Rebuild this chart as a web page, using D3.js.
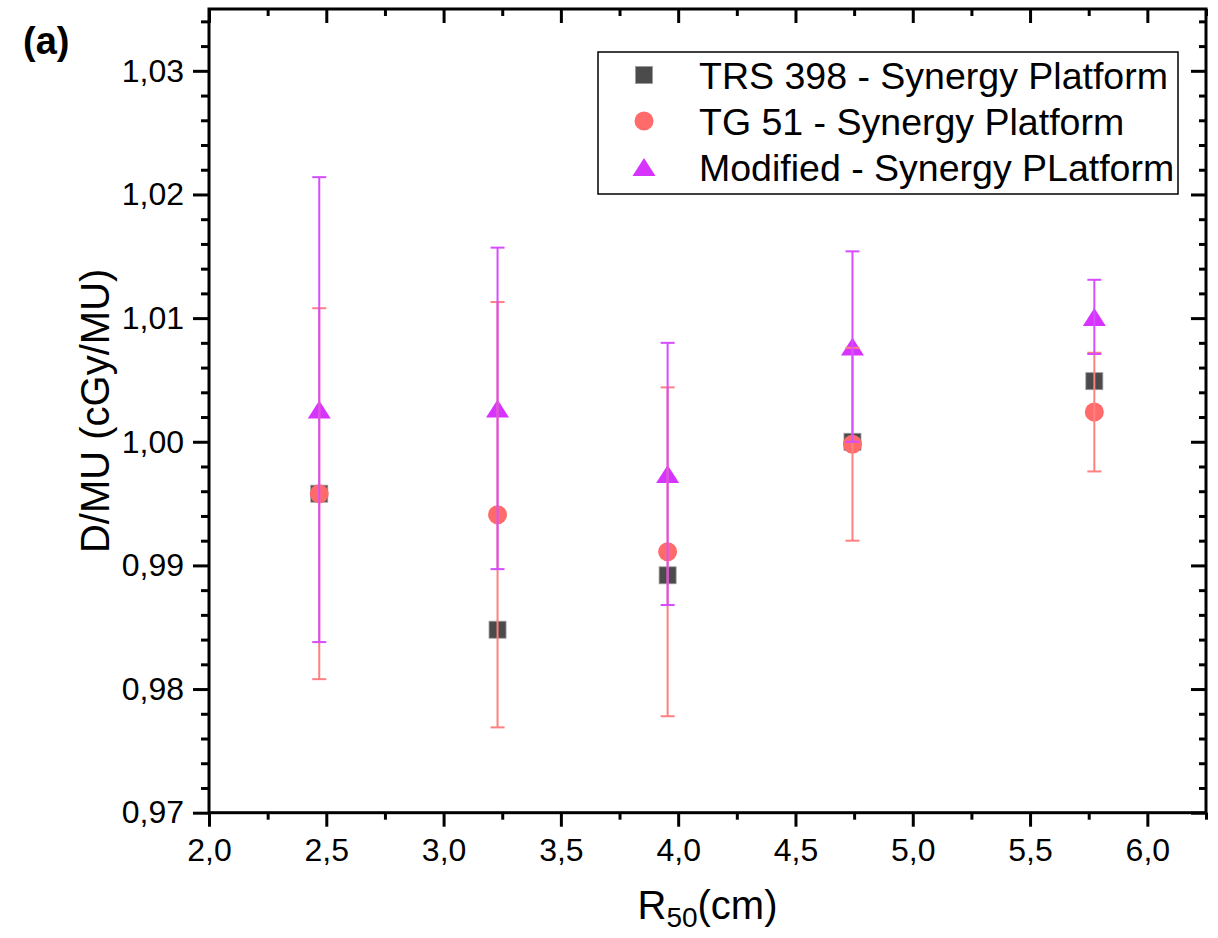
<!DOCTYPE html>
<html>
<head>
<meta charset="utf-8">
<script src="https://cdn.jsdelivr.net/npm/d3@7"></script>
<style>
  html, body { margin: 0; padding: 0; background: #fff; }
  svg { display: block; font-family: Arial, "Liberation Sans", sans-serif; }
</style>
</head>
<body>
<svg id="chart" width="1218" height="938"></svg>
<script>
// ---- data ----
const r50 = [2.47, 3.23, 3.955, 4.743, 5.774];
const trs398 = [0.9958, 0.9848, 0.9892, 1.0000, 1.0049];
const tg51 = [0.9958, 0.9941, 0.9911, 0.9998, 1.0024];
const tg51Err = [0.0150, 0.0172, 0.0133, 0.0078, 0.0048];
const modified = [1.0026, 1.0027, 0.9974, 1.0077, 1.0101];
const modifiedErr = [0.0188, 0.0130, 0.0106, 0.0077, 0.0030];
const xTicks = [2.0, 2.5, 3.0, 3.5, 4.0, 4.5, 5.0, 5.5, 6.0];
const yTicks = [0.97, 0.98, 0.99, 1.00, 1.01, 1.02, 1.03];
const seriesNames = ["TRS 398 - Synergy Platform", "TG 51 - Synergy Platform", "Modified - Synergy PLatform"];

// ---- layout ----
const W = 1218, H = 938;
const L = 209, R = 1206, T = 9, B = 812.7;
const svg = d3.select("#chart");
const x = d3.scaleLinear().domain([2.0, 6.25]).range([L, R]);
const y = d3.scaleLinear().domain([0.97, 1.035]).range([B, T]);

const comma = f => (v => d3.format(f)(v).replace(".", ","));
const xMinor = d3.range(2.0, 6.25 + 1e-9, 0.25).filter(v => Math.abs(v * 2 - Math.round(v * 2)) > 1e-6);
const yMinor = d3.range(0, 33).map(i => 0.97 + i * 0.002).filter(v => v <= 1.035 + 1e-9 && Math.abs(v * 100 - Math.round(v * 100)) > 1e-6);

function styleAxis(g, fs) {
  g.select(".domain").remove();
  g.selectAll("line").attr("stroke", "#000").attr("stroke-width", 3);
  g.selectAll("text").attr("fill", "#000").style("font-size", fs + "px");
}

// bottom axis
svg.append("g").attr("transform", `translate(0,${B})`)
  .call(d3.axisBottom(x).tickValues(xTicks).tickFormat(comma(".1f")).tickSize(14).tickPadding(12))
  .call(g => styleAxis(g, 32));
svg.append("g").attr("transform", `translate(0,${B})`)
  .call(d3.axisBottom(x).tickValues(xMinor).tickFormat("").tickSize(7))
  .call(g => styleAxis(g, 32));
// left axis
svg.append("g").attr("transform", `translate(${L},0)`)
  .call(d3.axisLeft(y).tickValues(yTicks).tickFormat(comma(".2f")).tickSize(16).tickPadding(9))
  .call(g => styleAxis(g, 32));
svg.append("g").attr("transform", `translate(${L},0)`)
  .call(d3.axisLeft(y).tickValues(yMinor).tickFormat("").tickSize(8))
  .call(g => styleAxis(g, 32));
// top axis (inward ticks)
svg.append("g").attr("transform", `translate(0,${T})`)
  .call(d3.axisTop(x).tickValues(xTicks).tickFormat("").tickSize(-14))
  .call(g => styleAxis(g, 32));
svg.append("g").attr("transform", `translate(0,${T})`)
  .call(d3.axisTop(x).tickValues(xMinor).tickFormat("").tickSize(-7))
  .call(g => styleAxis(g, 32));
// right axis (inward ticks)
svg.append("g").attr("transform", `translate(${R},0)`)
  .call(d3.axisRight(y).tickValues(yTicks).tickFormat("").tickSize(-15))
  .call(g => styleAxis(g, 32));
svg.append("g").attr("transform", `translate(${R},0)`)
  .call(d3.axisRight(y).tickValues(yMinor).tickFormat("").tickSize(-7))
  .call(g => styleAxis(g, 32));

// frame
svg.append("rect").attr("x", L).attr("y", T).attr("width", R - L).attr("height", B - T)
  .attr("fill", "none").attr("stroke", "#000").attr("stroke-width", 3);

// ---- markers ----
const colSquare = "#4b4b4b", colCircle = "#ff6b6b", colTri = "#d733ff";
const colCircleErr = "#ff8080", colTriErr = "#d64dff";
const sq = 17, cr = 9.5, triW = 23, triH = 18;

function drawSquare(g, cx, cy) {
  g.append("rect").attr("x", cx - sq / 2).attr("y", cy - sq / 2).attr("width", sq).attr("height", sq)
    .attr("fill", colSquare).attr("stroke", "#9a9a9a").attr("stroke-width", 0.8);
}
function drawCircle(g, cx, cy) {
  g.append("circle").attr("cx", cx).attr("cy", cy).attr("r", cr).attr("fill", colCircle);
}
function drawTri(g, cx, cy) {
  g.append("path").attr("d", `M${cx},${cy - triH / 2}L${cx + triW / 2},${cy + triH / 2}L${cx - triW / 2},${cy + triH / 2}Z`)
    .attr("fill", colTri);
}

const marks = svg.append("g");
r50.forEach((v, i) => drawSquare(marks, x(v), y(trs398[i])));
r50.forEach((v, i) => drawCircle(marks, x(v), y(tg51[i])));
r50.forEach((v, i) => drawTri(marks, x(v), y(modified[i])));

function errBars(vals, errs, color) {
  const g = svg.append("g").attr("stroke", color).attr("stroke-width", 2).attr("fill", "none");
  r50.forEach((v, i) => {
    const cx = x(v), y1 = y(vals[i] + errs[i]), y0 = y(vals[i] - errs[i]);
    g.append("line").attr("x1", cx).attr("x2", cx).attr("y1", y1).attr("y2", y0);
    g.append("line").attr("x1", cx - 7).attr("x2", cx + 7).attr("y1", y1).attr("y2", y1);
    g.append("line").attr("x1", cx - 7).attr("x2", cx + 7).attr("y1", y0).attr("y2", y0);
  });
}
errBars(tg51, tg51Err, colCircleErr);
errBars(modified, modifiedErr, colTriErr);

// ---- legend ----
const lg = svg.append("g");
lg.append("rect").attr("x", 598).attr("y", 52).attr("width", 580).attr("height", 142)
  .attr("fill", "#fff").attr("stroke", "#000").attr("stroke-width", 1.5);
const rowsY = [75, 121, 167];
drawSquare(lg, 644, rowsY[0]);
drawCircle(lg, 644, rowsY[1]);
drawTri(lg, 644, rowsY[2]);
seriesNames.forEach((s, i) => {
  lg.append("text").attr("x", 699).attr("y", rowsY[i]).attr("dy", "0.36em")
    .style("font-size", "37.5px").attr("fill", "#000").text(s);
});

// ---- titles ----
svg.append("text").attr("x", 23).attr("y", 54).style("font-size", "38px").style("font-weight", "bold")
  .attr("fill", "#000").text("(a)");

const xt = svg.append("text").attr("x", (L + R) / 2).attr("y", 919).attr("text-anchor", "middle")
  .style("font-size", "40px").attr("fill", "#000");
xt.append("tspan").text("R");
xt.append("tspan").attr("dy", 8).style("font-size", "28px").text("50");
xt.append("tspan").attr("dy", -8).text("(cm)");

svg.append("text").attr("transform", `translate(109,${(T + B) / 2}) rotate(-90)`)
  .attr("text-anchor", "middle").style("font-size", "40px").attr("fill", "#000")
  .text("D/MU (cGy/MU)");
</script>
</body>
</html>
